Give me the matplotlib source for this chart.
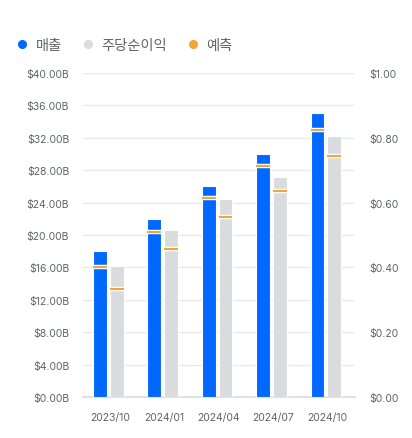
import numpy as np
import matplotlib
matplotlib.use('Agg')
import matplotlib.pyplot as plt
from matplotlib.lines import Line2D
from matplotlib.ticker import FuncFormatter

plt.rcParams['font.family'] = ['Inter', 'Noto Sans CJK KR', 'DejaVu Sans']

quarters = ['2023/10', '2024/01', '2024/04', '2024/07', '2024/10']
revenue = [18.05, 22.0, 26.1, 30.0, 35.05]          # $B
revenue_est = [16.1, 20.4, 24.55, 28.55, 32.95]     # $B
eps = [0.403, 0.515, 0.610, 0.680, 0.806]           # $
eps_est = [0.332, 0.458, 0.555, 0.636, 0.745]       # $

blue = '#0068ff'
grey = '#d9dcdf'
orange = '#f4a533'
txt = '#5f6368'

fig = plt.figure(figsize=(4.12, 4.39), dpi=100)
ax = fig.add_axes([83/412, 1-398/439, 272/412, 324/439])
ax2 = ax.twinx()

x = np.arange(len(quarters))
w = 0.255
xb = x - 0.19
xg = x + 0.12

ax.bar(xb, revenue, w, color=blue, edgecolor='white', linewidth=0.8, zorder=3)
ax.hlines(revenue_est, xb - w/2, xb + w/2, color='white', lw=3.2, zorder=4)
ax.hlines(revenue_est, xb - w/2, xb + w/2, color=orange, lw=1.5, zorder=5)

ax2.bar(xg, eps, w, color=grey, edgecolor='white', linewidth=0.8, zorder=3)
ax2.hlines(eps_est, xg - w/2, xg + w/2, color='white', lw=3.2, zorder=4)
ax2.hlines(eps_est, xg - w/2, xg + w/2, color=orange, lw=1.5, zorder=5)

ax.set_xlim(-0.5, 4.5)
ax.set_ylim(0, 40)
ax2.set_ylim(0, 1)
ax.set_yticks(np.arange(0, 41, 4))
ax2.set_yticks(np.arange(0, 1.01, 0.2))
ax.yaxis.set_major_formatter(FuncFormatter(lambda v, p: f'${v:.2f}B'))
ax2.yaxis.set_major_formatter(FuncFormatter(lambda v, p: f'${v:.2f}'))
ax.set_xticks(x)
ax.set_xticklabels(quarters)

ax.grid(axis='y', color='#e9eaec', linewidth=1, zorder=0)
ax.set_axisbelow(True)
for a in (ax, ax2):
    for s in a.spines.values():
        s.set_visible(False)
    a.tick_params(length=0, labelsize=7.5, labelcolor=txt)
ax.tick_params(axis='y', pad=10)
ax2.tick_params(axis='y', pad=10)
ax.tick_params(axis='x', pad=11)
ax.spines['bottom'].set_visible(True)
ax.spines['bottom'].set_color('#d3dcec')
ax.spines['bottom'].set_linewidth(1.2)

handles = [Line2D([], [], marker='o', ls='', color=c, markersize=5.5) for c in (blue, grey, orange)]
fig.legend(handles, ['매출', '주당순이익', '예측'], loc='upper left',
           bbox_to_anchor=(2/412, 1-26/439), ncol=3, frameon=False,
           handletextpad=0.45, columnspacing=1.3, handlelength=1.0,
           fontsize=10.3, labelcolor=txt)

fig.savefig('out.png', dpi=100, facecolor='white')
